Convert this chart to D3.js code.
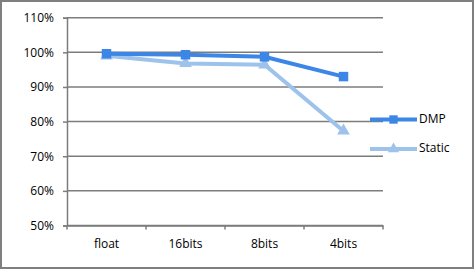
<!DOCTYPE html>
<html>
<head>
<meta charset="utf-8">
<script src="https://cdn.jsdelivr.net/npm/d3@7"></script>
<style>
  body { margin: 0; background: #fff; }
  svg text { font-family: "Open Sans", "Liberation Sans", sans-serif; font-size: 12px; fill: #000; }
</style>
</head>
<body>
<div id="chart"></div>
<script>
const categories = ["float", "16bits", "8bits", "4bits"];
const dmp = [99.6, 99.3, 98.7, 93.0];
const staticVals = [99.0, 96.8, 96.4, 77.3];
const yTicks = [50, 60, 70, 80, 90, 100, 110];

const w = 475;
const h = 270;

const series = [
  { name: "DMP", values: dmp, color: "#3b86e6", shape: d3.symbolSquare },
  { name: "Static", values: staticVals, color: "#9dc3ec", shape: d3.symbolTriangle }
];

const svg = d3.select("#chart")
  .append("svg")
  .attr("width", w)
  .attr("height", h);

// outer frame
svg.append("rect")
  .attr("x", 1).attr("y", 1)
  .attr("width", w - 3).attr("height", h - 3)
  .attr("fill", "#fff")
  .attr("stroke", "#7f7f7f")
  .attr("stroke-width", 2);

const xScale = d3.scaleBand()
  .domain(categories)
  .range([67, 383]);

const yScale = d3.scaleLinear()
  .domain([50, 110])
  .range([225.5, 17.7]);

// gridlines
svg.append("g")
  .selectAll("line")
  .data(yTicks)
  .enter()
  .append("line")
  .attr("x1", 67)
  .attr("x2", 383)
  .attr("y1", d => yScale(d))
  .attr("y2", d => yScale(d))
  .attr("stroke", "#7c7c7c")
  .attr("stroke-width", 1.5);

// y axis
const yAxis = d3.axisLeft(yScale)
  .tickValues(yTicks)
  .tickSize(4)
  .tickPadding(9)
  .tickFormat(d => d + "%");
const yG = svg.append("g")
  .attr("transform", "translate(67,0)")
  .call(yAxis);
yG.select(".domain").attr("stroke", "#7c7c7c").attr("stroke-width", 1.5);
yG.selectAll(".tick line").attr("stroke", "#7c7c7c").attr("stroke-width", 1.5);
yG.selectAll(".tick text").attr("font-size", "12px");

// x axis (ticks at category boundaries)
const xAxis = d3.axisBottom(xScale).tickSize(0).tickPadding(14);
const xG = svg.append("g")
  .attr("transform", "translate(0," + yScale(50) + ")")
  .call(xAxis);
xG.select(".domain").attr("stroke", "#7c7c7c").attr("stroke-width", 1.5);
xG.selectAll(".tick line").remove();
xG.selectAll(".tick text").attr("font-size", "12px");

svg.append("g")
  .selectAll("line")
  .data(categories.concat(["end"]))
  .enter()
  .append("line")
  .attr("x1", (d, i) => 67 + i * xScale.step())
  .attr("x2", (d, i) => 67 + i * xScale.step())
  .attr("y1", yScale(50))
  .attr("y2", yScale(50) + 4)
  .attr("stroke", "#7c7c7c")
  .attr("stroke-width", 1.5);

const cx = c => xScale(c) + xScale.bandwidth() / 2;

const line = d3.line()
  .x((d, i) => cx(categories[i]))
  .y(d => yScale(d));

// draw Static under DMP
[series[1], series[0]].forEach(s => {
  svg.append("path")
    .datum(s.values)
    .attr("fill", "none")
    .attr("stroke", s.color)
    .attr("stroke-width", 4)
    .attr("d", line);

  svg.append("g")
    .selectAll("path")
    .data(s.values)
    .enter()
    .append("path")
    .attr("d", d3.symbol().type(s.shape).size(s.shape === d3.symbolSquare ? 90 : 70))
    .attr("transform", (d, i) => "translate(" + cx(categories[i]) + "," + yScale(d) + ")")
    .attr("fill", s.color);
});

// legend
const legend = svg.append("g").attr("id", "legend");
const legendY = [119.5, 149];
series.forEach((s, i) => {
  legend.append("line")
    .attr("x1", 370).attr("x2", 417)
    .attr("y1", legendY[i]).attr("y2", legendY[i])
    .attr("stroke", s.color)
    .attr("stroke-width", 4);
  legend.append("path")
    .attr("d", d3.symbol().type(s.shape).size(s.shape === d3.symbolSquare ? 70 : 55))
    .attr("transform", "translate(393.5," + legendY[i] + ")")
    .attr("fill", s.color);
  legend.append("text")
    .attr("x", 419)
    .attr("y", legendY[i])
    .attr("dominant-baseline", "middle")
    .text(s.name);
});
</script>
</body>
</html>
